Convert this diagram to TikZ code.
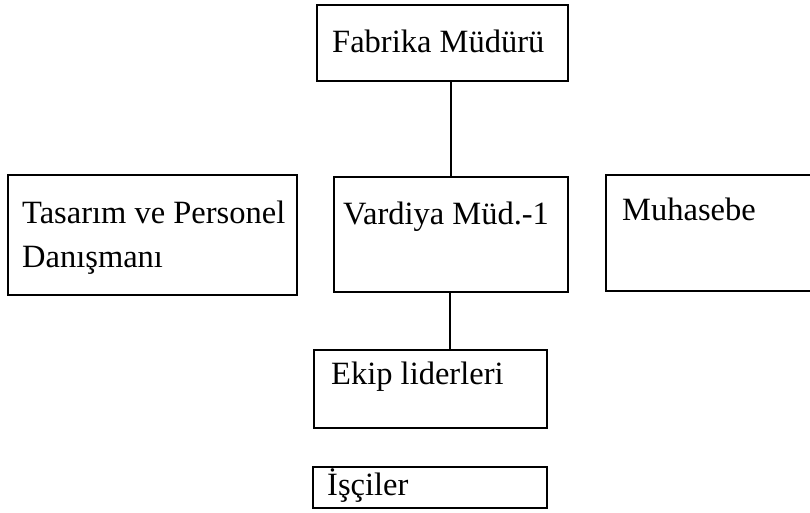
\documentclass[tikz,border=0pt]{standalone}
\usepackage{fontspec}
\setmainfont{Liberation Serif}
\begin{document}
\begin{tikzpicture}[x=1pt,y=-1pt,
  box/.style={draw=black,line width=1.4pt,rectangle,inner sep=0pt,outer sep=0pt},
  lbl/.style={anchor=base west,inner sep=0pt,font=\fontsize{32.5}{39}\selectfont},
  link/.style={draw=black,line width=1.4pt}]
\useasboundingbox (0,0) rectangle (810,513);
% boxes
\node[box,minimum width=251pt,minimum height=76pt]  (fab)  at (442.5,43)  {};
\node[box,minimum width=289pt,minimum height=120pt] (tas)  at (152.5,235) {};
\node[box,minimum width=234pt,minimum height=115pt] (var)  at (451,234.5) {};
\node[box,minimum width=208pt,minimum height=116pt] (muh)  at (710,233)   {};
\node[box,minimum width=233pt,minimum height=78pt]  (ekip) at (430.5,389) {};
\node[box,minimum width=234pt,minimum height=41pt]  (isc)  at (430,487.5) {};
% labels
\node[lbl] (tfab)  at (332,53)  {Fabrika Müdürü};
\node[lbl] (ttas1) at (22,223)  {Tasarım ve Personel};
\node[lbl] (ttas2) at (22,267)  {Danışmanı};
\node[lbl] (tvar)  at (343,224) {Vardiya Müd.-1};
\node[lbl] (tmuh)  at (622,220) {Muhasebe};
\node[lbl] (tekip) at (331,384) {Ekip liderleri};
\node[lbl] (tisc)  at (327,495) {İşçiler};
% connectors
\draw[link] (var.north) -- (var.north |- fab.south);
\draw[link] ([xshift=-1pt]var.south) -- ([xshift=-1pt]var.south |- ekip.north);
\end{tikzpicture}
\end{document}
